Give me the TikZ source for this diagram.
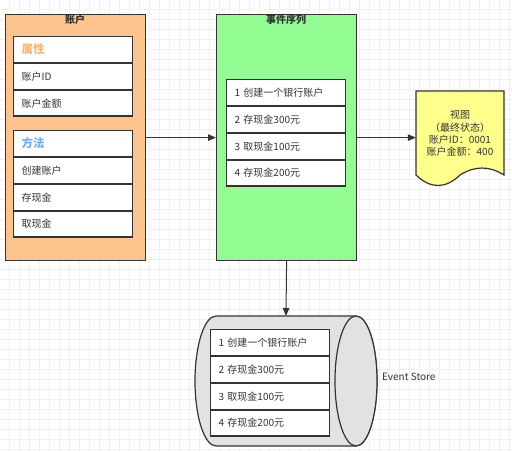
\documentclass[tikz,border=0pt]{standalone}
\usepackage{fontspec}
\setmainfont{Noto Sans CJK SC}
\usetikzlibrary{arrows.meta}

\definecolor{acctfill}{RGB}{255,196,142}
\definecolor{evfill}{RGB}{146,252,146}
\definecolor{viewfill}{RGB}{255,255,140}
\definecolor{storefill}{RGB}{226,226,226}
\definecolor{attrorange}{RGB}{255,178,110}
\definecolor{methblue}{RGB}{110,175,250}
\definecolor{linegray}{RGB}{51,51,51}

\tikzset{
  gridline/.style={draw=black!6, line width=0.6pt},
  bigbox/.style={draw=linegray, line width=1.2pt, anchor=north west, minimum width=140pt, minimum height=246pt},
  titletext/.style={font=\bfseries\fontsize{10}{12}\selectfont, text=linegray},
  rowbox/.style={draw=linegray, line width=1.2pt, fill=white, anchor=north west, text width=103pt, inner xsep=8pt, inner ysep=0pt, minimum height=25.7pt, align=left, font=\fontsize{10}{12}\selectfont, text=black!80},
  headtext/.style={font=\bfseries\fontsize{11.5}{13}\selectfont},
  flow/.style={draw=linegray, line width=1pt, -{Triangle[length=8pt,width=6.5pt]}}
}

\begin{document}
\begin{tikzpicture}[x=1pt,y=-1pt]
\useasboundingbox (0,0) rectangle (512,452);
\foreach \gx in {9,19,...,509} \draw[gridline] (\gx,0) -- (\gx,452);
\foreach \gy in {9,19,...,449} \draw[gridline] (0,\gy) -- (512,\gy);

% account
\node[bigbox, fill=acctfill] (account) at (5,14) {};
\node[titletext] (accttitle) at (75,20) {账户};
\node[rowbox, headtext, text=attrorange] (attrhead) at (13,36) {属性};
\node[rowbox] (attrid) at (attrhead.south west) {账户ID};
\node[rowbox] (attrsum) at (attrid.south west) {账户金额};
\node[rowbox, headtext, text=methblue] (methhead) at (13,130) {方法};
\node[rowbox] (methopen) at (methhead.south west) {创建账户};
\node[rowbox] (methin) at (methopen.south west) {存现金};
\node[rowbox] (methout) at (methin.south west) {取现金};

% events
\node[bigbox, fill=evfill] (events) at (216,14) {};
\node[titletext] (evtitle) at (286,20) {事件序列};
\node[rowbox] (evone) at (226,79) {1 创建一个银行账户};
\node[rowbox] (evtwo) at (evone.south west) {2 存现金300元};
\node[rowbox] (evthree) at (evtwo.south west) {3 取现金100元};
\node[rowbox] (evfour) at (evthree.south west) {4 存现金200元};

% view
\draw[draw=linegray, line width=1.2pt, fill=viewfill] (416,91) -- (504,91) -- (504,175)
  .. controls (489.3,165.7) and (474.7,165.7) .. (460,175)
  .. controls (445.3,189) and (430.7,189) .. (416,175) -- cycle;
\node[minimum width=88pt, align=center, inner sep=0pt, font=\fontsize{10}{12.4}\selectfont, text=black!80] (view) at (460,133.5)
  {视图\\（最终状态）\\账户ID：0001\\账户金额：400};

% event store
\draw[draw=linegray, line width=1.2pt, fill=storefill] (356,316) -- (216,316)
  arc[start angle=270, end angle=90, x radius=21, y radius=65] -- (356,446)
  arc[start angle=90, end angle=-90, x radius=21, y radius=65] -- cycle;
\draw[draw=linegray, line width=1.2pt, fill=storefill] (356,381) ellipse[x radius=21, y radius=65];
\coordinate (storetop) at (286,316);
\node[rowbox] (stone) at (210,329) {1 创建一个银行账户};
\node[rowbox] (sttwo) at (stone.south west) {2 存现金300元};
\node[rowbox] (stthree) at (sttwo.south west) {3 取现金100元};
\node[rowbox] (stfour) at (stthree.south west) {4 存现金200元};
\node[anchor=west, inner sep=0pt, font=\fontsize{10}{12}\selectfont, text=black!80] (storelabel) at (382,377) {Event Store};

% arrows
\draw[flow] (account) -- (events);
\draw[flow] (events.east) -- (events.east -| view.west);
\draw[flow] (events.south) -- (storetop);
\end{tikzpicture}
\end{document}
